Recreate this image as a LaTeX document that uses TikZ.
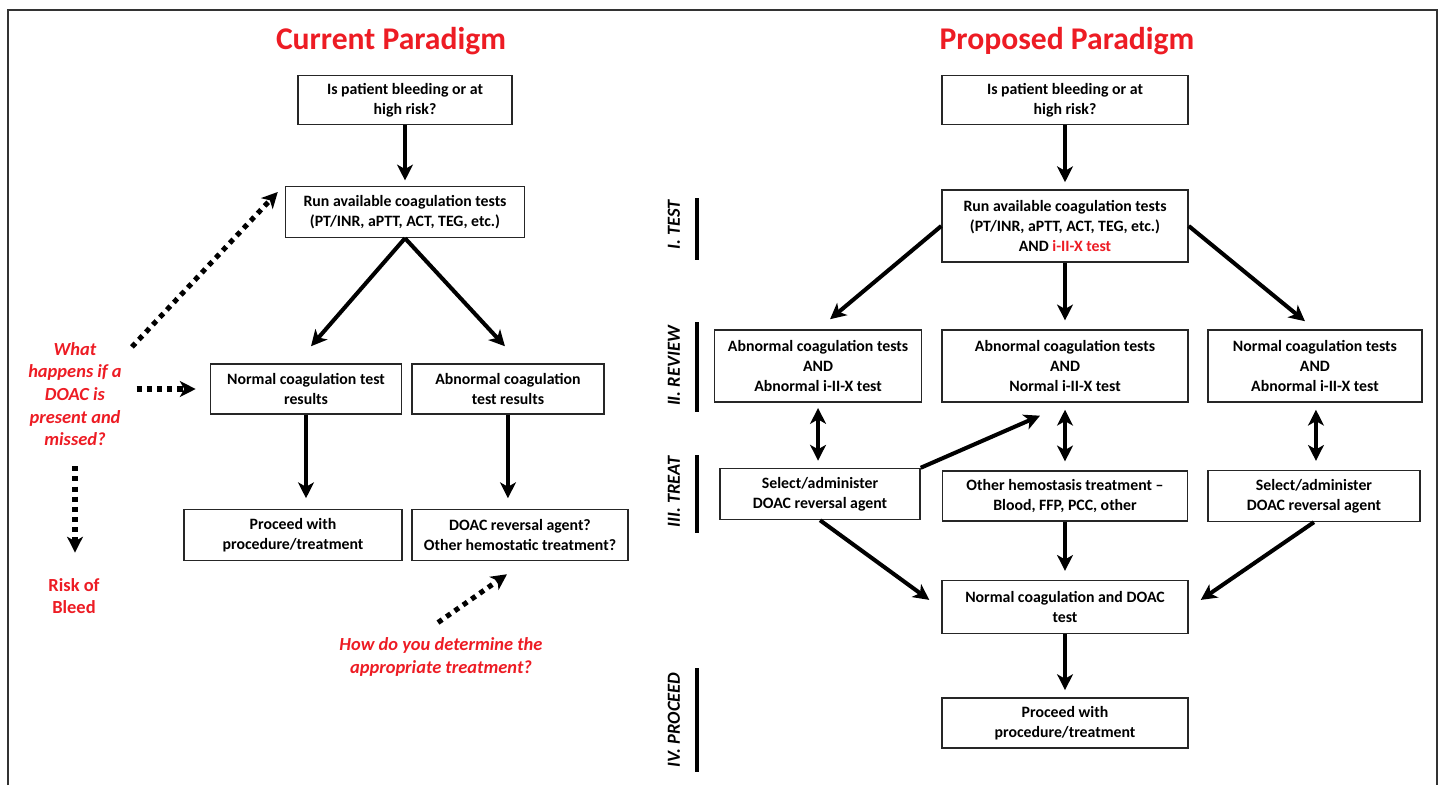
\documentclass[tikz,border=0pt]{standalone}
\usepackage{fontspec}
\setmainfont{Carlito}
\usetikzlibrary{arrows.meta,positioning}
\definecolor{paradigmred}{RGB}{237,28,36}

\begin{document}
\begin{tikzpicture}[
    x=0.02cm,
    y=-0.02cm,
    font=\bfseries\fontsize{9}{11.5}\selectfont,
    box/.style={
        draw=black!85,
        line width=0.85pt,
        fill=white,
        align=center,
        inner sep=2pt
    },
    title/.style={
        text=paradigmred,
        font=\bfseries\fontsize{18}{22}\selectfont
    },
    question/.style={
        text=paradigmred,
        align=center,
        font=\bfseries\itshape\fontsize{10.5}{12.9}\selectfont
    },
    stage/.style={
        rotate=90,
        font=\bfseries\itshape\fontsize{10.5}{12}\selectfont
    },
    stageline/.style={
        line width=1.8pt
    },
    arrow/.style={
        -{Stealth[length=9pt, width=9pt, inset=2.5pt]},
        line width=2.3pt
    },
    twoway/.style={
        {Stealth[length=9pt, width=9pt, inset=2.5pt]}-{Stealth[length=9pt, width=9pt, inset=2.5pt]},
        line width=2.3pt
    },
    hint/.style={
        -{Stealth[length=9pt, width=9pt, inset=2.5pt]},
        line width=2.9pt,
        dash pattern=on 2.9pt off 2.9pt
    }
]

\useasboundingbox (0,0) rectangle (1442,785);

% Frame
\draw [black!80, line width=0.9pt] (8,785) -- (8,10) -- (1437,10) -- (1437,785);

% Current paradigm
\node [title] (ctitle) at (391,41) {Current Paradigm};
\node [box, minimum width=4.28cm, minimum height=0.98cm] (cq1) at (405,100) {Is patient bleeding or at\\high risk?};
\node [box, minimum width=4.78cm, minimum height=1.02cm, below of=cq1, node distance=2.24cm] (cq2) {Run available coagulation tests\\(PT/INR, aPTT, ACT, TEG, etc.)};
\node [box, minimum width=3.82cm, minimum height=1.0cm] (cnorm) at (306,389) {Normal coagulation test\\results};
\node [box, minimum width=3.84cm, minimum height=1.0cm, right of=cnorm, node distance=4.04cm] (cabn) {Abnormal coagulation\\test results};
\node [box, minimum width=4.36cm, minimum height=1.02cm] (cproc) at (293,535) {Proceed with\\procedure/treatment};
\node [box, minimum width=4.32cm, minimum height=1.02cm] (crev) at (520,535) {DOAC reversal agent?\\Other hemostatic treatment?};

\draw [arrow, shorten >=3pt] (cq1) -- (cq2);
\draw [arrow] (cq2.south) -- ([xshift=0.1cm, yshift=0.34cm]cnorm.north);
\draw [arrow] (cq2.south) -- ([xshift=-0.06cm, yshift=0.34cm]cabn.north);
\draw [arrow, shorten >=6pt] (cnorm.south) -- (cnorm.south |- cproc.north);
\draw [arrow, shorten >=6pt] (cabn.south) -- (cabn.south |- crev.north);

% Questions in red
\node [question] (cwhat) at (75,394) {What\\happens if a\\DOAC is\\present and\\missed?};
\node [question, font=\bfseries\fontsize{10.5}{12.9}\selectfont] (crisk) at (74,596) {Risk of\\Bleed};
\node [question] (chow) at (441,657) {How do you determine the\\appropriate treatment?};

\draw [hint] ([xshift=0.08cm, yshift=-0.22cm]cwhat.north east) -- ([xshift=-0.14cm, yshift=0.4cm]cq2.west);
\draw [hint, shorten <=5pt, shorten >=8pt] (cwhat.east |- cnorm.west) -- (cnorm.west);
\draw [hint, shorten <=8pt, shorten >=11pt] (cwhat.south) -- (cwhat.south |- crisk.north);
\draw [hint] ([xshift=-0.06cm, yshift=0.18cm]chow.north) -- ([xshift=-0.26cm, yshift=-0.26cm]crev.south);

% Proposed paradigm
\node [title] (ptitle) at (1067,41) {Proposed Paradigm};
\node [box, minimum width=4.92cm, minimum height=0.98cm] (pq1) at (1065,100) {Is patient bleeding or at\\high risk?};
\node [box, minimum width=4.92cm, minimum height=1.44cm, below of=pq1, node distance=2.52cm] (pq2) {Run available coagulation tests\\(PT/INR, aPTT, ACT, TEG, etc.)\\AND \textcolor{paradigmred}{i-II-X test}};

% Review
\node [box, minimum width=4.92cm, minimum height=1.44cm, below of=pq2, node distance=2.8cm] (pr2) {Abnormal coagulation tests\\AND\\Normal i-II-X test};
\node [box, minimum width=4.14cm, minimum height=1.44cm, left of=pr2, node distance=4.94cm] (pr1) {Abnormal coagulation tests\\AND\\Abnormal i-II-X test};
\node [box, minimum width=4.28cm, minimum height=1.44cm, right of=pr2, node distance=5.0cm] (pr3) {Normal coagulation tests\\AND\\Abnormal i-II-X test};

% Treat
\node [box, minimum width=4.9cm, minimum height=1.0cm, below of=pr2, node distance=2.6cm] (pt2) {Other hemostasis treatment --\\Blood, FFP, PCC, other};
\node [box, minimum width=4.0cm, minimum height=1.02cm] (pt1) at (820,494) {Select/administer\\DOAC reversal agent};
\node [box, minimum width=4.24cm, minimum height=1.02cm, right of=pt2, node distance=4.98cm] (pt3) {Select/administer\\DOAC reversal agent};

% Proceed
\node [box, minimum width=4.92cm, minimum height=1.06cm, below of=pt2, node distance=2.22cm] (pnorm) {Normal coagulation and DOAC\\test};
\node [box, minimum width=4.92cm, minimum height=1.0cm, below of=pnorm, node distance=2.32cm] (pproc) {Proceed with\\procedure/treatment};

\draw [arrow, shorten >=4pt] (pq1) -- (pq2);
\draw [arrow] (pq2.west) -- ([xshift=0.24cm, yshift=0.2cm]pr1.north);
\draw [arrow, shorten >=5pt] (pq2) -- (pr2);
\draw [arrow] (pq2.east) -- ([xshift=-0.2cm, yshift=0.16cm]pr3.north);
\draw [twoway, shorten <=3pt, shorten >=4pt] (pr1.south) -- (pr1.south |- pt1.north);
\draw [twoway, shorten <=4pt, shorten >=5pt] (pr2) -- (pt2);
\draw [twoway, shorten <=4pt, shorten >=5pt] ([xshift=0.02cm]pr3.south) -- ([xshift=0.02cm]pr3.south |- pt3.north);
\draw [arrow] (pt1.north east) -- ([xshift=-0.5cm, yshift=-0.26cm]pr2.south);
\draw [arrow] (pt1.south) -- ([xshift=-0.24cm, yshift=0.14cm]pnorm.west);
\draw [arrow, shorten >=5pt] (pt2) -- (pnorm);
\draw [arrow] (pt3.south) -- ([xshift=0.24cm, yshift=0.14cm]pnorm.east);
\draw [arrow, shorten >=4pt] (pnorm) -- (pproc);

% Stages
\node [stage] (s1) at (674,225) {I. TEST};
\node [stage] (s2) at (674,366) {II. REVIEW};
\node [stage] (s3) at (674,492) {III. TREAT};
\node [stage] (s4) at (674,720) {IV. PROCEED};
\draw [stageline] (697,198) -- (697,260);
\draw [stageline] (697,322) -- (697,412);
\draw [stageline] (697,455) -- (697,533);
\draw [stageline] (697,668) -- (697,772);

\end{tikzpicture}
\end{document}
